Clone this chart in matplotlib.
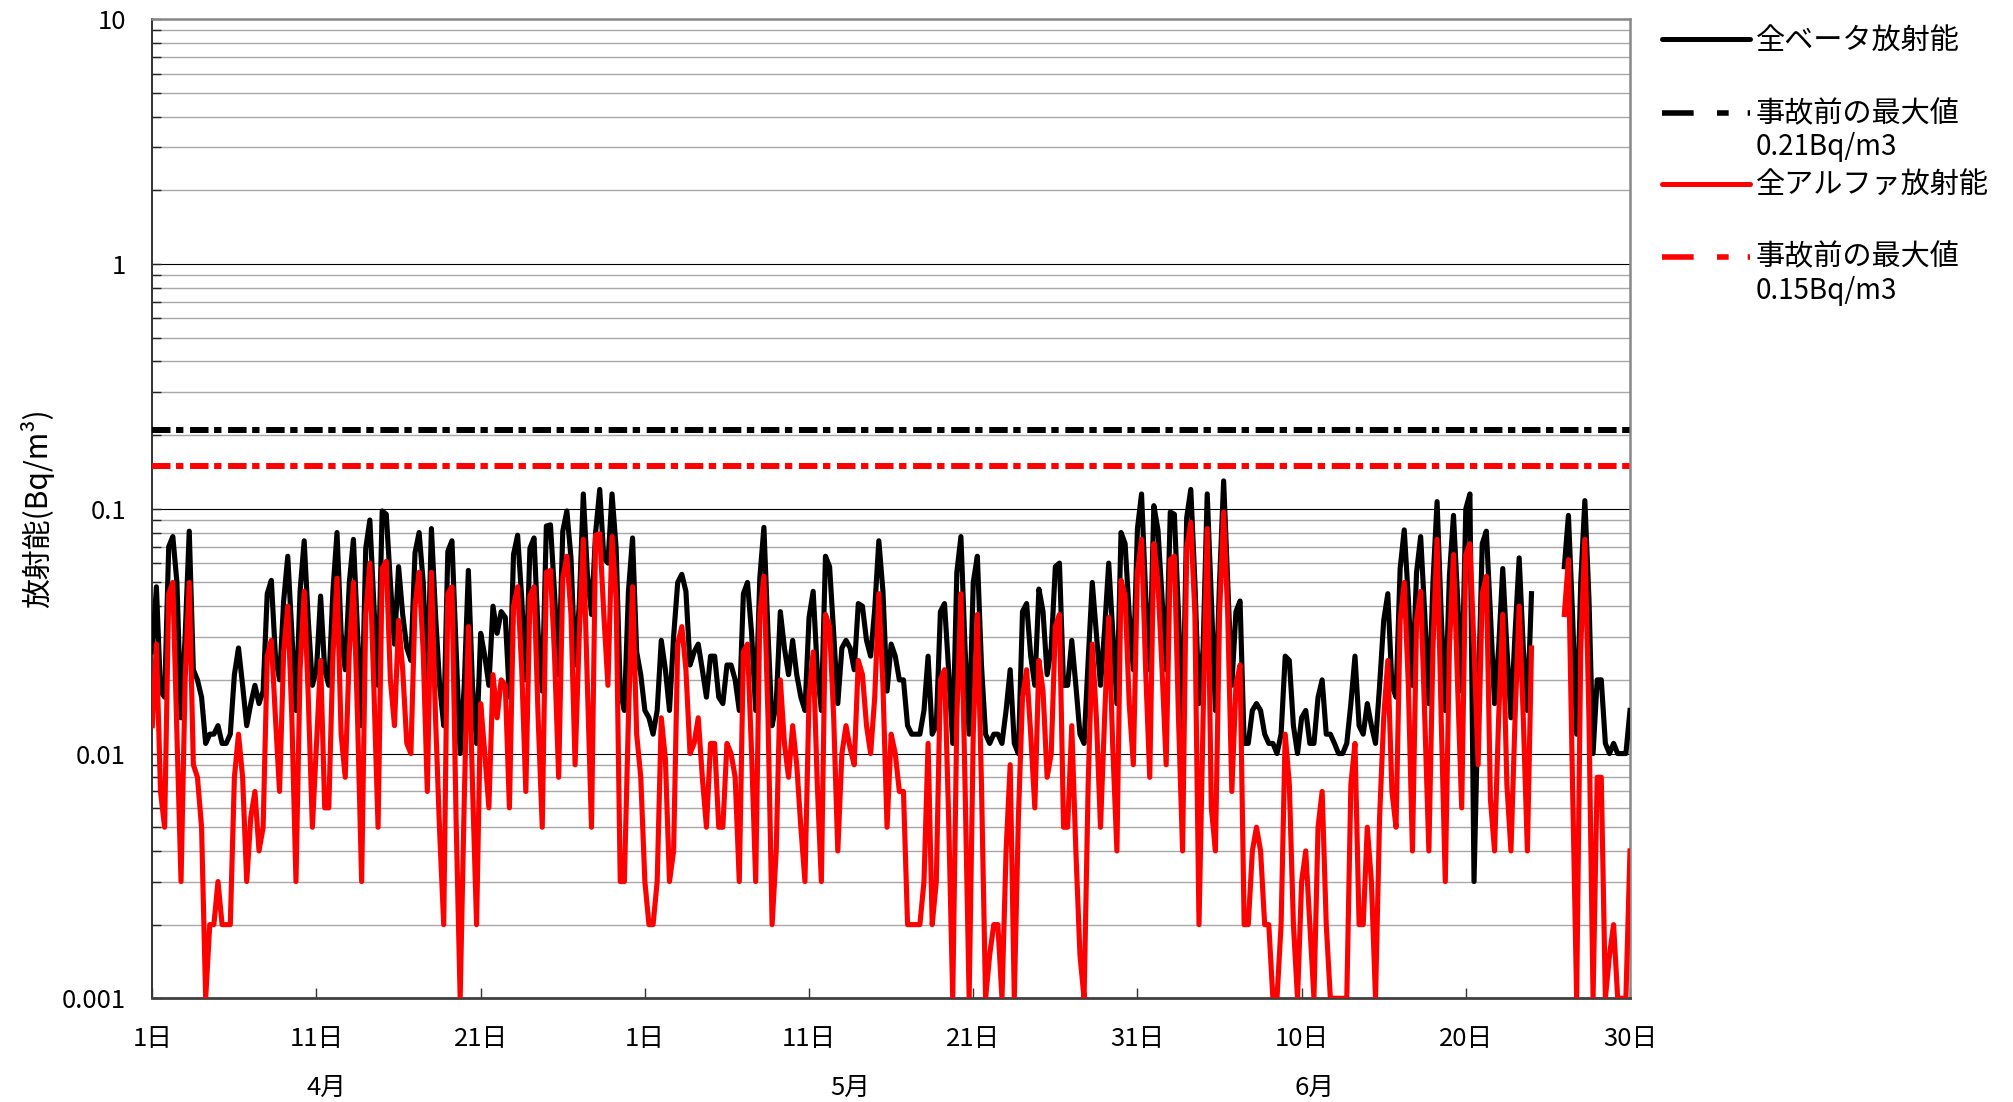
import numpy as np
import matplotlib
matplotlib.use("Agg")
import matplotlib.pyplot as plt
from matplotlib.ticker import FixedLocator, FixedFormatter, LogLocator, NullFormatter

plt.rcParams['font.family'] = ['Noto Sans CJK JP', 'DejaVu Sans']
plt.rcParams['lines.scale_dashes'] = False

# ---------------- data (6-hourly values, 1 Apr 00:00 -> 30 Jun 00:00) ----------------
samples_per_day = 4

beta = [
    0.026, 0.048, 0.018, 0.017, 0.07, 0.077, 0.05, 0.014, 0.03, 0.081,
    0.022, 0.020, 0.017, 0.011, 0.012, 0.012, 0.013, 0.011, 0.011, 0.012,
    0.021, 0.027, 0.019, 0.013, 0.016, 0.019, 0.016, 0.018, 0.045, 0.051,
    0.025, 0.02, 0.042, 0.064, 0.031, 0.015, 0.046, 0.074, 0.035, 0.019,
    0.022, 0.044, 0.022, 0.019, 0.046, 0.08, 0.031, 0.022, 0.05, 0.075,
    0.031, 0.013, 0.069, 0.09, 0.04, 0.019, 0.098, 0.095, 0.05, 0.028,
    0.058, 0.037, 0.027, 0.024, 0.066, 0.08, 0.05, 0.019, 0.083, 0.037,
    0.019, 0.013, 0.067, 0.074, 0.027, 0.01, 0.019, 0.056, 0.019, 0.011,
    0.031, 0.025, 0.019, 0.04, 0.031, 0.038, 0.036, 0.017, 0.065, 0.078,
    0.043, 0.02, 0.069, 0.076, 0.031, 0.018, 0.085, 0.086, 0.045, 0.021,
    0.081, 0.098, 0.063, 0.023, 0.04, 0.115, 0.054, 0.037, 0.08, 0.12,
    0.063, 0.06, 0.115, 0.069, 0.018, 0.015, 0.046, 0.076, 0.026, 0.021,
    0.015, 0.014, 0.012, 0.015, 0.029, 0.022, 0.015, 0.03, 0.05, 0.054,
    0.046, 0.023, 0.026, 0.028, 0.022, 0.017, 0.025, 0.025, 0.017, 0.016,
    0.023, 0.023, 0.02, 0.015, 0.045, 0.05, 0.031, 0.015, 0.052, 0.084,
    0.031, 0.013, 0.016, 0.038, 0.027, 0.021, 0.029, 0.021, 0.017, 0.015,
    0.036, 0.046, 0.022, 0.015, 0.064, 0.058, 0.031, 0.016, 0.027, 0.029,
    0.027, 0.022, 0.041, 0.04, 0.029, 0.025, 0.039, 0.074, 0.046, 0.018,
    0.028, 0.025, 0.02, 0.02, 0.013, 0.012, 0.012, 0.012, 0.015, 0.025,
    0.012, 0.013, 0.038, 0.041, 0.022, 0.011, 0.055, 0.077, 0.027, 0.012,
    0.05, 0.064, 0.023, 0.012, 0.011, 0.012, 0.012, 0.011, 0.015, 0.022,
    0.011, 0.01, 0.038, 0.041, 0.025, 0.019, 0.047, 0.038, 0.021, 0.027,
    0.058, 0.06, 0.019, 0.019, 0.029, 0.019, 0.012, 0.011, 0.024, 0.05,
    0.031, 0.019, 0.032, 0.06, 0.031, 0.016, 0.08, 0.072, 0.037, 0.022,
    0.083, 0.115, 0.045, 0.022, 0.103, 0.082, 0.043, 0.022, 0.097, 0.095,
    0.037, 0.012, 0.092, 0.12, 0.05, 0.016, 0.027, 0.115, 0.043, 0.015,
    0.05, 0.13, 0.05, 0.019, 0.038, 0.042, 0.011, 0.011, 0.015, 0.016,
    0.015, 0.012, 0.011, 0.011, 0.01, 0.012, 0.025, 0.024, 0.013, 0.01,
    0.014, 0.015, 0.011, 0.011, 0.017, 0.02, 0.012, 0.012, 0.011, 0.01,
    0.01, 0.011, 0.016, 0.025, 0.013, 0.012, 0.016, 0.013, 0.011, 0.019,
    0.035, 0.045, 0.019, 0.017, 0.057, 0.082, 0.043, 0.019, 0.055, 0.077,
    0.037, 0.016, 0.05, 0.107, 0.037, 0.015, 0.053, 0.094, 0.043, 0.018,
    0.1, 0.115, 0.003, 0.016, 0.072, 0.081, 0.037, 0.016, 0.027, 0.057,
    0.027, 0.014, 0.031, 0.063, 0.027, 0.015, 0.045, None, None, None,
    None, None, None, None, 0.058, 0.094, 0.037, 0.012, 0.05, 0.108,
    0.043, 0.01, 0.02, 0.02, 0.011, 0.01, 0.011, 0.01, 0.01, 0.01,
    0.015,
]

alpha = [
    0.013, 0.028, 0.007, 0.005, 0.045, 0.05, 0.012, 0.003, 0.02, 0.05,
    0.009, 0.008, 0.005, 0.001, 0.002, 0.002, 0.003, 0.002, 0.002, 0.002,
    0.008, 0.012, 0.008, 0.003, 0.0055, 0.007, 0.004, 0.005, 0.025, 0.029,
    0.014, 0.007, 0.026, 0.04, 0.014, 0.003, 0.022, 0.046, 0.017, 0.005,
    0.011, 0.024, 0.006, 0.006, 0.025, 0.052, 0.012, 0.008, 0.026, 0.05,
    0.014, 0.003, 0.037, 0.06, 0.018, 0.005, 0.057, 0.061, 0.02, 0.013,
    0.035, 0.022, 0.011, 0.01, 0.04, 0.055, 0.026, 0.007, 0.055, 0.014,
    0.0048, 0.002, 0.045, 0.048, 0.0055, 0.001, 0.0065, 0.033, 0.0075, 0.002,
    0.016, 0.010, 0.006, 0.021, 0.014, 0.02, 0.019, 0.006, 0.04, 0.048,
    0.022, 0.007, 0.044, 0.048, 0.014, 0.005, 0.055, 0.056, 0.025, 0.008,
    0.052, 0.064, 0.037, 0.009, 0.03, 0.075, 0.019, 0.005, 0.078, 0.079,
    0.037, 0.019, 0.077, 0.043, 0.003, 0.003, 0.014, 0.048, 0.012, 0.008,
    0.003, 0.002, 0.002, 0.003, 0.014, 0.0095, 0.003, 0.004, 0.028, 0.033,
    0.022, 0.01, 0.011, 0.014, 0.008, 0.005, 0.011, 0.011, 0.005, 0.005,
    0.011, 0.01, 0.008, 0.003, 0.026, 0.028, 0.01, 0.003, 0.037, 0.053,
    0.014, 0.002, 0.004, 0.02, 0.011, 0.008, 0.013, 0.009, 0.005, 0.003,
    0.017, 0.026, 0.0075, 0.003, 0.037, 0.033, 0.014, 0.004, 0.01, 0.013,
    0.0105, 0.009, 0.024, 0.021, 0.013, 0.01, 0.017, 0.045, 0.019, 0.005,
    0.012, 0.01, 0.007, 0.007, 0.002, 0.002, 0.002, 0.002, 0.003, 0.011,
    0.002, 0.003, 0.02, 0.022, 0.0055, 0.001, 0.014, 0.045, 0.0075, 0.001,
    0.012, 0.037, 0.0075, 0.001, 0.0015, 0.002, 0.002, 0.001, 0.004, 0.009,
    0.001, 0.0055, 0.017, 0.022, 0.012, 0.006, 0.024, 0.018, 0.008, 0.01,
    0.033, 0.037, 0.005, 0.005, 0.013, 0.004, 0.0015, 0.001, 0.0075, 0.028,
    0.014, 0.005, 0.014, 0.036, 0.0105, 0.004, 0.051, 0.044, 0.016, 0.009,
    0.055, 0.075, 0.022, 0.008, 0.072, 0.05, 0.022, 0.009, 0.062, 0.064,
    0.014, 0.004, 0.069, 0.088, 0.037, 0.002, 0.014, 0.083, 0.006, 0.004,
    0.037, 0.097, 0.037, 0.007, 0.019, 0.023, 0.002, 0.002, 0.004, 0.005,
    0.004, 0.002, 0.002, 0.001, 0.001, 0.002, 0.012, 0.0075, 0.002, 0.001,
    0.003, 0.004, 0.002, 0.001, 0.005, 0.007, 0.002, 0.001, 0.001, 0.001,
    0.001, 0.001, 0.0075, 0.011, 0.002, 0.002, 0.005, 0.003, 0.001, 0.0055,
    0.014, 0.024, 0.007, 0.005, 0.035, 0.05, 0.019, 0.004, 0.035, 0.046,
    0.014, 0.004, 0.027, 0.075, 0.014, 0.003, 0.027, 0.065, 0.019, 0.006,
    0.065, 0.072, 0.027, 0.009, 0.045, 0.053, 0.0065, 0.004, 0.014, 0.037,
    0.0075, 0.004, 0.014, 0.04, 0.014, 0.004, 0.027, None, None, None,
    None, None, None, None, 0.037, 0.062, 0.0075, 0.001, 0.027, 0.075,
    0.014, 0.001, 0.008, 0.008, 0.001, 0.0015, 0.002, 0.001, 0.001, 0.001,
    0.004,
]

beta_prev_max = 0.21
alpha_prev_max = 0.15

series_labels = ["全ベータ放射能", "全アルファ放射能"]
prev_label = "事故前の最大値"
beta_prev_text = "0.21Bq/m3"
alpha_prev_text = "0.15Bq/m3"

tick_days = [0, 10, 20, 30, 40, 50, 60, 70, 80, 90]
tick_labels = ["1日", "11日", "21日", "1日", "11日", "21日", "31日", "10日", "20日", "30日"]
month_labels = ["4月", "5月", "6月"]
month_pos = [10.6, 42.5, 70.8]
ytick_vals = [0.001, 0.01, 0.1, 1, 10]
ytick_labels = ["0.001", "0.01", "0.1", "1", "10"]
ylabel = "放射能(Bq/m³)"

# ---------------- figure ----------------
W, H = 2013, 1102
fig = plt.figure(figsize=(W / 100, H / 100), dpi=100)
L, R, T, B = 152.3, 1630.0, 19.3, 998.3
ax = fig.add_axes([L / W, 1 - B / H, (R - L) / W, (B - T) / H])

t = np.arange(len(beta)) / samples_per_day
b = np.array([np.nan if v is None else v for v in beta], dtype=float)
a = np.array([np.nan if v is None else v for v in alpha], dtype=float)

dash_plot = (13.3, 4.0, 5.3, 4.8)
ax.axhline(beta_prev_max, color="black", lw=4.3, dashes=dash_plot, dash_capstyle="butt", zorder=3)
ax.axhline(alpha_prev_max, color="#ff0000", lw=4.3, dashes=dash_plot, dash_capstyle="butt", zorder=3)
ax.plot(t, b, color="black", lw=3.7, zorder=4)
ax.plot(t, a, color="#ff0000", lw=3.7, zorder=5)

ax.set_yscale("log")
ax.set_ylim(0.001, 10)
ax.set_xlim(0, 90)

ax.yaxis.set_major_locator(FixedLocator(ytick_vals))
ax.yaxis.set_major_formatter(FixedFormatter(ytick_labels))
ax.yaxis.set_minor_locator(LogLocator(base=10, subs=np.arange(2, 10)))
ax.yaxis.set_minor_formatter(NullFormatter())
ax.set_xticks(tick_days)
ax.set_xticklabels(tick_labels)

ax.tick_params(axis="y", which="both", direction="in", length=6.5, width=1.0,
               color="#222222", labelsize=18.5, pad=19)
ax.tick_params(axis="x", which="both", direction="in", length=7, width=1.0,
               color="#333333", labelsize=18.5, pad=20)

ax.set_axisbelow(True)
ax.grid(True, axis="y", which="minor", color="#a8a8a8", lw=1.0)
ax.grid(True, axis="y", which="major", color="black", lw=0.8)
ax.grid(False, axis="x")

ax.spines["left"].set_color("#333333")
ax.spines["left"].set_linewidth(1.4)
ax.spines["bottom"].set_color("#404040")
ax.spines["bottom"].set_linewidth(2.0)
ax.spines["top"].set_color("#888888")
ax.spines["top"].set_linewidth(1.8)
ax.spines["right"].set_color("#888888")
ax.spines["right"].set_linewidth(1.8)

# month labels (data x, axes y)
trans = ax.get_xaxis_transform()
for lab, pos in zip(month_labels, month_pos):
    ax.text(pos, (1102 - 1088 - (H - B)) / (B - T), lab, transform=trans,
            ha="center", va="center", fontsize=18.5, clip_on=False)

# y label
fig.text(37 / W, 1 - 508 / H, ylabel, rotation=90, ha="center", va="center", fontsize=21.5)

# ---------------- legend (manual, pixel coordinates) ----------------
lax = fig.add_axes([0, 0, 1, 1])
lax.set_xlim(0, W)
lax.set_ylim(H, 0)
lax.set_axis_off()
lax.patch.set_alpha(0)

x0, x1, xt = 1662, 1750, 1756
dash_leg = (22.8, 16.8, 8.4, 13.7)
fs_leg = 21
lax.plot([x0, x1], [39, 39], color="black", lw=3.6, solid_capstyle="round")
lax.text(xt, 41, series_labels[0], ha="left", va="center", fontsize=fs_leg)
lax.plot([x0, x1], [113, 113], color="black", lw=4.0, dashes=dash_leg, dash_capstyle="butt")
lax.text(xt, 114, prev_label, ha="left", va="center", fontsize=fs_leg)
lax.text(xt, 147, beta_prev_text, ha="left", va="center", fontsize=20)
lax.plot([x0, x1], [184, 184], color="#ff0000", lw=3.6, solid_capstyle="round")
lax.text(xt, 185, series_labels[1], ha="left", va="center", fontsize=fs_leg)
lax.plot([x0, x1], [257, 257], color="#ff0000", lw=4.0, dashes=dash_leg, dash_capstyle="butt")
lax.text(xt, 257, prev_label, ha="left", va="center", fontsize=fs_leg)
lax.text(xt, 291, alpha_prev_text, ha="left", va="center", fontsize=20)

fig.savefig("out.png", dpi=100)
